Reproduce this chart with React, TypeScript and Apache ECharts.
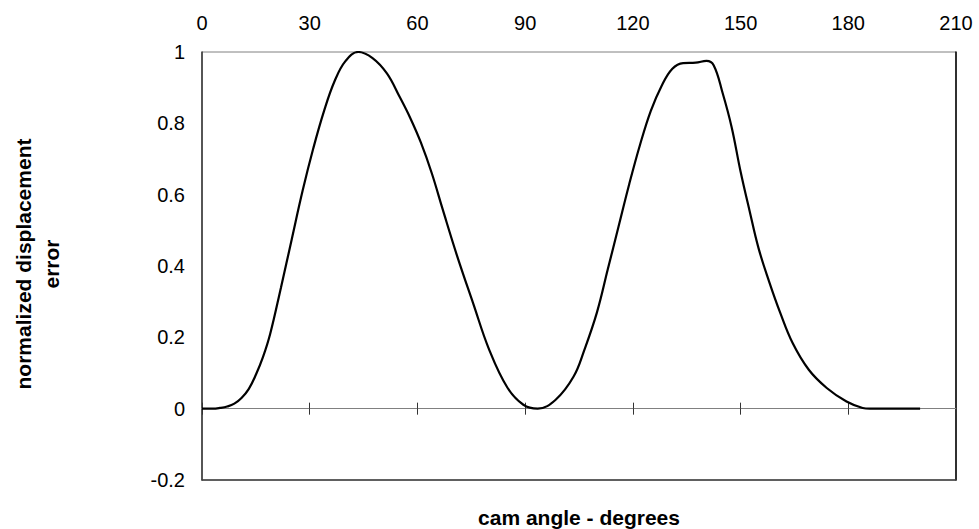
import React, { useEffect, useRef } from "react";
import * as echarts from "echarts";

const camAngle = [
  0, 3, 5, 7, 9, 11, 13, 15, 17, 19, 22, 25, 28, 31, 34, 37, 40, 43.5, 47.5, 51.5, 55,
  58, 61, 64, 67, 71, 75.5, 80, 85, 89.5, 93.5, 98.5, 103.5, 106.5, 110, 113, 116, 119, 122,
  125, 128, 131, 134, 137.5, 140.5, 142.5, 145, 147.5, 150, 152.5, 155, 158, 161, 164.5, 169,
  174, 179.5, 184, 186, 190, 195, 200,
];
const errorValues = [
  0, 0, 0.002, 0.006, 0.014, 0.03, 0.055, 0.095, 0.145, 0.21, 0.34, 0.475, 0.61, 0.73, 0.835,
  0.92, 0.975, 1.0, 0.983, 0.94, 0.875, 0.815, 0.745, 0.66, 0.56, 0.43, 0.296, 0.165, 0.06,
  0.011, 0.0, 0.025, 0.09, 0.165, 0.27, 0.39, 0.51, 0.63, 0.74, 0.835, 0.905, 0.953, 0.969,
  0.97, 0.975, 0.963, 0.885, 0.79, 0.665, 0.555, 0.45, 0.355, 0.27, 0.184, 0.109, 0.058, 0.02,
  0.002, 0, 0, 0, 0,
];
const xMin = 0;
const xMax = 210;
const xStep = 30;
const yMin = -0.2;
const yMax = 1;
const yStep = 0.2;
const xTitle = "cam angle - degrees";
const yTitle = "normalized displacement\nerror";

const FONT = "'Liberation Sans', Arial, sans-serif";

export default function App() {
  const ref = useRef<HTMLDivElement>(null);
  useEffect(() => {
    document.body.style.margin = "0";
    if (!ref.current) return;
    const chart = echarts.init(ref.current, null, { renderer: "svg" });
    const data = camAngle.map((x, i) => [x, errorValues[i]]);
    const baseX = { type: "value", min: xMin, max: xMax, interval: xStep };
    chart.setOption({
      animation: false,
      backgroundColor: "#fff",
      grid: {
        left: 202,
        top: 52,
        right: 23,
        bottom: 49,
        show: true,
        borderColor: "#808080",
        borderWidth: 1,
        containLabel: false,
      },
      xAxis: [
        {
          ...baseX,
          position: "top",
          axisLine: { show: false, onZero: false },
          axisTick: { show: false },
          splitLine: { show: false },
          axisLabel: { color: "#000", fontSize: 20, fontFamily: FONT, margin: 19 },
        },
        {
          ...baseX,
          position: "bottom",
          axisLine: { show: true, onZero: true, lineStyle: { color: "#808080", width: 1 } },
          axisTick: { show: true, inside: true, length: 6, lineStyle: { color: "#333", width: 1 } },
          axisLabel: { show: false },
          splitLine: { show: false },
        },
        {
          ...baseX,
          position: "bottom",
          axisLine: { show: true, onZero: true, lineStyle: { color: "#808080", width: 1 } },
          axisTick: { show: true, inside: false, length: 6, lineStyle: { color: "#333", width: 1 } },
          axisLabel: { show: false },
          splitLine: { show: false },
        },
        {
          ...baseX,
          position: "bottom",
          axisLine: { show: true, onZero: false, lineStyle: { color: "#404040", width: 1.5 } },
          axisTick: { show: false },
          axisLabel: { show: false },
          splitLine: { show: false },
        },
      ],
      yAxis: [
        {
          type: "value",
          min: yMin,
          max: yMax,
          interval: yStep,
          position: "left",
          axisLine: { show: true, onZero: false, lineStyle: { color: "#333", width: 1.5 } },
          axisTick: { show: false },
          splitLine: { show: false },
          axisLabel: {
            color: "#000",
            fontSize: 20,
            fontFamily: FONT,
            margin: 17,
            formatter: (v: number) => String(Math.round(v * 10) / 10),
          },
        },
        {
          type: "value",
          min: yMin,
          max: yMax,
          interval: yStep,
          position: "right",
          axisLine: { show: true, onZero: false, lineStyle: { color: "#000", width: 1.5 } },
          axisTick: { show: false },
          splitLine: { show: false },
          axisLabel: { show: false },
        },
      ],
      graphic: [
        {
          type: "text",
          x: 579,
          y: 517,
          style: {
            text: xTitle,
            fontSize: 21,
            fontWeight: "bold",
            fontFamily: FONT,
            fill: "#000",
            textAlign: "center",
            textVerticalAlign: "middle",
          },
        },
        {
          type: "text",
          x: 37,
          y: 264,
          rotation: Math.PI / 2,
          style: {
            text: yTitle,
            fontSize: 21,
            fontWeight: "bold",
            fontFamily: FONT,
            fill: "#000",
            lineHeight: 28,
            textAlign: "center",
            textVerticalAlign: "middle",
          },
        },
      ],
      series: [
        {
          type: "line",
          xAxisIndex: 0,
          yAxisIndex: 0,
          data,
          showSymbol: false,
          smooth: 0.4,
          lineStyle: { color: "#000", width: 2.2 },
          z: 5,
        },
      ],
    });
    return () => chart.dispose();
  }, []);
  return <div ref={ref} style={{ width: 979, height: 529 }} />;
}
